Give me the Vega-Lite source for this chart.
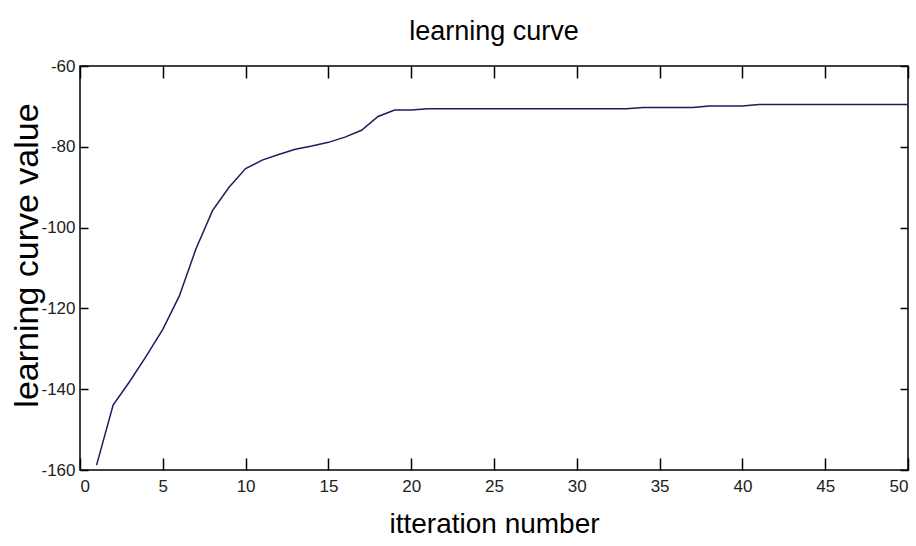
{
  "$schema": "https://vega.github.io/schema/vega-lite/v6.json",
  "autosize": "none",
  "width": 828,
  "height": 404,
  "padding": {"left": 80, "top": 66, "right": 8, "bottom": 76},
  "background": "white",
  "title": {"text": "learning curve", "font": "Liberation Sans", "fontSize": 27, "fontWeight": "normal", "color": "black", "offset": 11},
  "config": {
    "view": {"stroke": "black", "strokeWidth": 1.5},
    "axis": {"grid": false, "domain": false, "tickColor": "black", "tickWidth": 1.5, "labelFont": "Liberation Sans", "labelFontSize": 17, "labelColor": "#222", "titleFont": "Liberation Sans", "titleFontWeight": "normal", "titleColor": "black", "labelExpr": "'' + datum.value"}
  },
  "data": {"values": [
    {"iteration": 1, "value": -158.8},
    {"iteration": 2, "value": -143.9},
    {"iteration": 3, "value": -138.1},
    {"iteration": 4, "value": -131.8},
    {"iteration": 5, "value": -125.2},
    {"iteration": 6, "value": -116.9},
    {"iteration": 7, "value": -105.3},
    {"iteration": 8, "value": -95.8},
    {"iteration": 9, "value": -90.0},
    {"iteration": 10, "value": -85.4},
    {"iteration": 11, "value": -83.3},
    {"iteration": 12, "value": -81.9},
    {"iteration": 13, "value": -80.6},
    {"iteration": 14, "value": -79.8},
    {"iteration": 15, "value": -78.9},
    {"iteration": 16, "value": -77.6},
    {"iteration": 17, "value": -75.9},
    {"iteration": 18, "value": -72.5},
    {"iteration": 19, "value": -70.9},
    {"iteration": 20, "value": -70.9},
    {"iteration": 21, "value": -70.6},
    {"iteration": 22, "value": -70.6},
    {"iteration": 23, "value": -70.6},
    {"iteration": 24, "value": -70.6},
    {"iteration": 25, "value": -70.6},
    {"iteration": 26, "value": -70.6},
    {"iteration": 27, "value": -70.6},
    {"iteration": 28, "value": -70.6},
    {"iteration": 29, "value": -70.6},
    {"iteration": 30, "value": -70.6},
    {"iteration": 31, "value": -70.6},
    {"iteration": 32, "value": -70.6},
    {"iteration": 33, "value": -70.6},
    {"iteration": 34, "value": -70.3},
    {"iteration": 35, "value": -70.3},
    {"iteration": 36, "value": -70.3},
    {"iteration": 37, "value": -70.3},
    {"iteration": 38, "value": -69.9},
    {"iteration": 39, "value": -69.9},
    {"iteration": 40, "value": -69.9},
    {"iteration": 41, "value": -69.5},
    {"iteration": 42, "value": -69.5},
    {"iteration": 43, "value": -69.5},
    {"iteration": 44, "value": -69.5},
    {"iteration": 45, "value": -69.5},
    {"iteration": 46, "value": -69.5},
    {"iteration": 47, "value": -69.5},
    {"iteration": 48, "value": -69.5},
    {"iteration": 49, "value": -69.5},
    {"iteration": 50, "value": -69.5}
  ]},
  "layer": [
    {
      "mark": {"type": "line", "color": "#1c1c5e", "strokeWidth": 1.5, "interpolate": "linear"},
      "encoding": {
        "x": {"field": "iteration", "type": "quantitative", "scale": {"domain": [0, 50], "nice": false},
              "axis": {"orient": "bottom", "values": [0,5,10,15,20,25,30,35,40,45,50], "tickSize": -12, "labelPadding": 20, "title": "itteration number", "titleFontSize": 28, "titlePadding": 16}},
        "y": {"field": "value", "type": "quantitative", "scale": {"domain": [-160, -60], "nice": false, "zero": false},
              "axis": {"orient": "left", "values": [-160,-140,-120,-100,-80,-60], "tickSize": -8, "labelPadding": 13, "title": "learning curve value", "titleFontSize": 34, "titleX": -36, "titleY": 189}}
      }
    },
    {
      "mark": {"type": "line", "opacity": 0},
      "encoding": {
        "x": {"field": "iteration", "type": "quantitative", "axis": {"orient": "top", "values": [0,5,10,15,20,25,30,35,40,45,50], "tickSize": -12, "labels": false, "title": null}},
        "y": {"field": "value", "type": "quantitative", "axis": {"orient": "right", "values": [-160,-140,-120,-100,-80,-60], "tickSize": -8, "labels": false, "title": null}}
      }
    }
  ]
}
